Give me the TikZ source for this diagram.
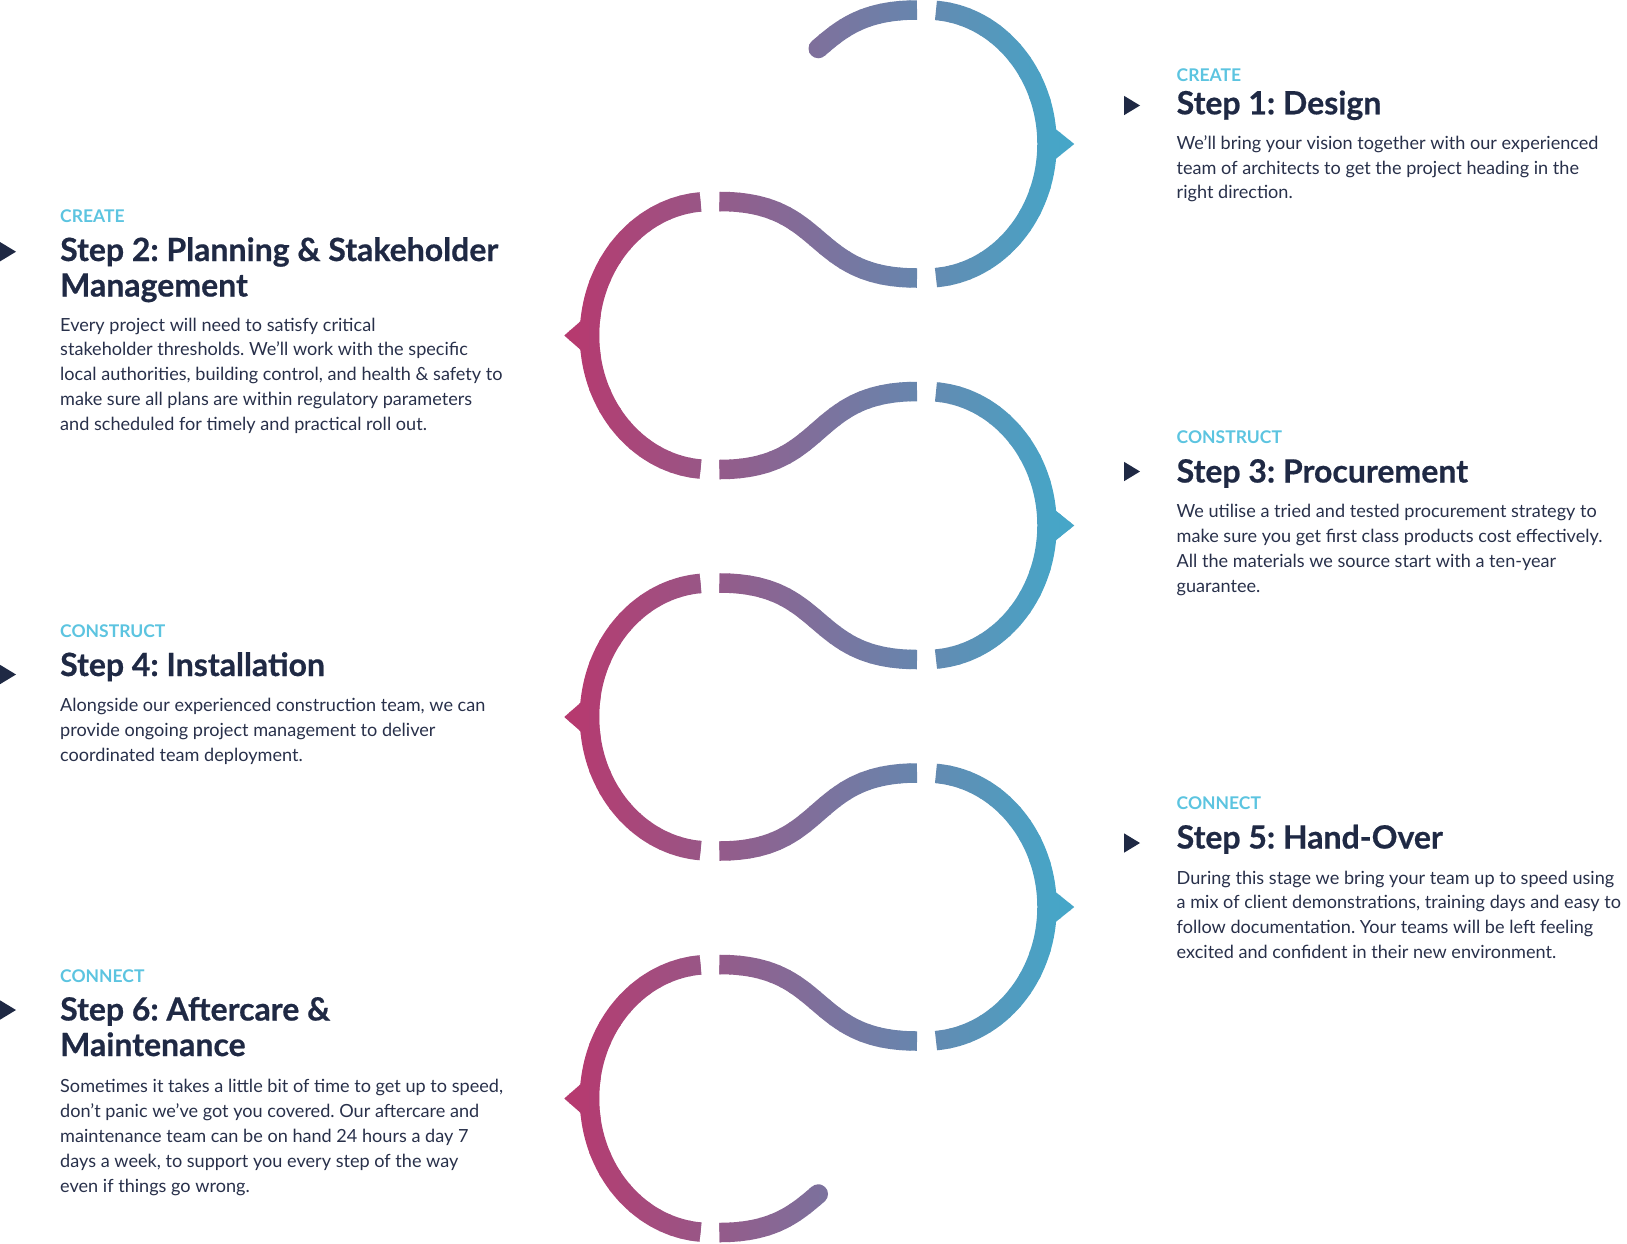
\documentclass[tikz,border=0pt]{standalone}
\usepackage{fontspec}
\setmainfont{Lato}
\newfontfamily\headfont{Lato}[BoldFeatures={FakeBold=0.6}]
\definecolor{wpink}{RGB}{182,58,111}
\definecolor{wblue}{RGB}{70,166,200}
\definecolor{navy}{RGB}{31,41,68}
\definecolor{bodyc}{RGB}{40,48,74}
\definecolor{labc}{RGB}{92,196,224}
\colorlet{wc}{wpink}
\newcommand\drawwave{%
  \foreach \cy in {144,525.5,907}{%
    \draw[wline] ([shift={(-85.5:120.5 and 134)}]926.5,\cy) arc[start angle=-85.5,end angle=85.5,x radius=120.5,y radius=134];
    \fill[wc] (1074.25,\cy) -- (1056.25,\cy-14.5) -- (1046,\cy-14.5) -- (1046,\cy+14.5) -- (1056.25,\cy+14.5) -- cycle;
  }%
  \foreach \cy in {335.5,717,1098.5}{%
    \draw[wline] ([shift={(265.5:120.5 and 134)}]710,\cy) arc[start angle=265.5,end angle=94.5,x radius=120.5,y radius=134];
    \fill[wc] (564.25,\cy) -- (580.25,\cy-14) -- (590,\cy-14) -- (590,\cy+14) -- (580.25,\cy+14) -- cycle;
  }%
  \foreach \ya/\yb in {201.5/278,583/659.5,964.5/1041,469.5/391.5,851/773}{%
    \draw[wline] (719.5,\ya) .. controls (827.5,\ya) and (809,\yb) .. (917,\yb);
  }%
  \draw[wline] (917,10) .. controls (863,10) and (840.625,29.25) .. (818.25,48.5);
  \draw[wline] (719.5,1232.5) .. controls (773.5,1232.5) and (795.875,1213.25) .. (818.25,1194);
  \fill[wc] (818.25,48.5) circle[radius=9.75];
  \fill[wc] (818.25,1194) circle[radius=9.75];
}
\begin{document}
\begin{tikzpicture}[x=1pt,y=-1pt,
  wline/.style={line width=19.5pt,draw=wc},
  lab/.style={anchor=base west,inner sep=0pt,text=labc,font=\fontsize{17.5}{20}\selectfont\bfseries\frenchspacing},
  head/.style={anchor=base west,inner sep=0pt,text=navy,font=\headfont\fontsize{32}{35.5}\selectfont\bfseries\frenchspacing},
  bodytext/.style={anchor=base west,inner sep=0pt,text=bodyc,font=\fontsize{18.1}{24.8}\selectfont\frenchspacing},
  marker/.style={fill=navy}]
\useasboundingbox (0,0) rectangle (1627,1243);
% gradient wave drawn strip by strip
\foreach \i in {0,...,52}{%
  \pgfmathsetmacro\xa{550+10*\i}%
  \pgfmathsetmacro\p{max(0,min(100,(\xa+5-575)/4.85))}%
  \colorlet{wc}{wblue!\p!wpink}%
  \begin{scope}
    \clip (\xa-0.6,-5) rectangle (\xa+10.6,1250);
    \drawwave
  \end{scope}
}
% markers
\fill[marker] (1124,95.8) -- (1140,105.5) -- (1124,115.2) -- cycle;
\fill[marker] (1124,461.8) -- (1140,471.5) -- (1124,481.2) -- cycle;
\fill[marker] (1124,833.3) -- (1140,843) -- (1124,852.7) -- cycle;
\fill[marker] (0,242) -- (16,251.7) -- (0,261.4) -- cycle;
\fill[marker] (0,664.8) -- (16,674.5) -- (0,684.2) -- cycle;
\fill[marker] (0,1000.3) -- (16,1010) -- (0,1019.7) -- cycle;
% Step 1
\node[lab] (l1) at (1176.5,81.8) {CREATE};
\node[head] (h1) at (1176.5,114.3) {Step 1: Design};
\node[bodytext] (b1) at (1176.5,149.3) {\begin{tabular}[t]{@{}l@{}}We’ll bring your vision together with our experienced\\team of architects to get the project heading in the\\right direction.\end{tabular}};
% Step 2
\node[lab] (l2) at (60,222) {CREATE};
\node[head] (h2) at (60,261) {\begin{tabular}[t]{@{}l@{}}Step 2: Planning \& Stakeholder\\Management\end{tabular}};
\node[bodytext] (b2) at (60,331) {\begin{tabular}[t]{@{}l@{}}Every project will need to satisfy critical\\stakeholder thresholds. We’ll work with the specific\\local authorities, building control, and health \& safety to\\make sure all plans are within regulatory parameters\\and scheduled for timely and practical roll out.\end{tabular}};
% Step 3
\node[lab] (l3) at (1176.5,443.5) {CONSTRUCT};
\node[head] (h3) at (1176.5,482.5) {Step 3: Procurement};
\node[bodytext] (b3) at (1176.5,517.8) {\begin{tabular}[t]{@{}l@{}}We utilise a tried and tested procurement strategy to\\make sure you get first class products cost effectively.\\All the materials we source start with a ten-year\\guarantee.\end{tabular}};
% Step 4
\node[lab] (l4) at (60,637.5) {CONSTRUCT};
\node[head] (h4) at (60,676) {Step 4: Installation};
\node[bodytext] (b4) at (60,711.8) {\begin{tabular}[t]{@{}l@{}}Alongside our experienced construction team, we can\\provide ongoing project management to deliver\\coordinated team deployment.\end{tabular}};
% Step 5
\node[lab] (l5) at (1176.5,809) {CONNECT};
\node[head] (h5) at (1176.5,848.5) {Step 5: Hand-Over};
\node[bodytext] (b5) at (1176.5,884) {\begin{tabular}[t]{@{}l@{}}During this stage we bring your team up to speed using\\a mix of client demonstrations, training days and easy to\\follow documentation. Your teams will be left feeling\\excited and confident in their new environment.\end{tabular}};
% Step 6
\node[lab] (l6) at (60,982) {CONNECT};
\node[head] (h6) at (60,1020.5) {\begin{tabular}[t]{@{}l@{}}Step 6: Aftercare \&\\Maintenance\end{tabular}};
\node[bodytext] (b6) at (60,1092.8) {\begin{tabular}[t]{@{}l@{}}Sometimes it takes a little bit of time to get up to speed,\\don’t panic we’ve got you covered. Our aftercare and\\maintenance team can be on hand 24 hours a day 7\\days a week, to support you every step of the way\\even if things go wrong.\end{tabular}};
\end{tikzpicture}
\end{document}
